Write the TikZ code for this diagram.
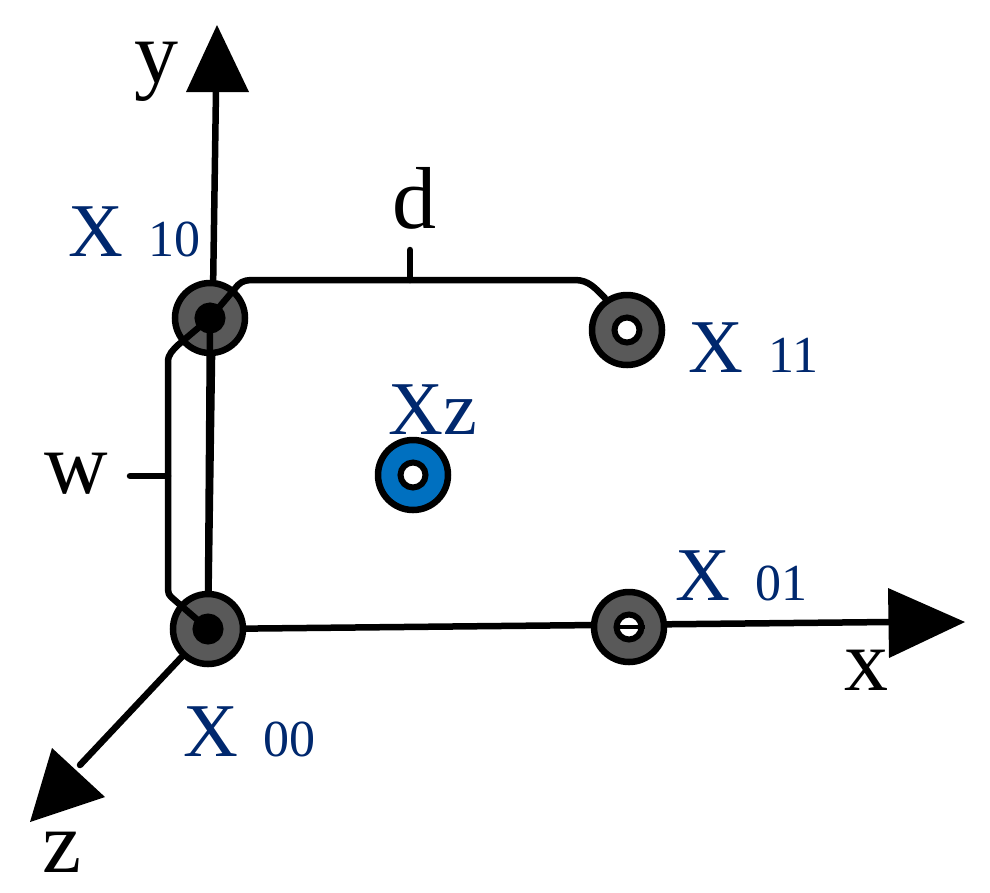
\documentclass[tikz,border=0pt]{standalone}
\usepackage{fontspec}
\setmainfont{Liberation Serif}
\newcommand{\subsz}{\fontsize{52}{52}\selectfont}
\begin{document}
\begin{tikzpicture}[x=1pt,y=-1pt,
  ln/.style={line width=6.5pt,line cap=round,line join=round},
  tip/.style={fill=black},
  pt/.style={circle,draw=black,line width=6.5pt,fill=gray6,minimum size=70pt,inner sep=0pt},
  hole/.style={circle,draw=black,line width=6pt,fill=white,minimum size=25pt,inner sep=0pt},
  lab/.style={text=navy,font=\fontsize{76}{76}\selectfont,inner sep=0pt},
  ax/.style={font=\fontsize{88}{88}\selectfont,inner sep=0pt}]
\definecolor{gray6}{RGB}{89,89,89}
\definecolor{navy}{RGB}{0,40,110}
\definecolor{blu}{RGB}{0,112,192}
\useasboundingbox (0,0) rectangle (990,892);
% axes
\coordinate (O) at (208,629);
\coordinate (ytip) at (217,25);
\coordinate (xtip) at (965,622);
\coordinate (ztip) at (30,822);
\draw[ln] (O) -- (216,90);
\fill[tip] (ytip) -- (186,92) -- (249,92) -- cycle;
\draw[ln] (O) -- (890,622);
\fill[tip] (xtip) -- (888,588) -- (889,658) -- cycle;
\draw[ln] (O) -- (80,765);
\fill[tip] (ztip) -- (52,748) -- (105,797) -- cycle;
% nodes
\node[pt] (n00) at (208,629) {};
\node[hole,fill=black] (h00) at (208,629) {};
\node[pt] (n10) at (210,318) {};
\node[hole,fill=black] (h10) at (210,318) {};
\node[pt] (n11) at (627,330) {};
\node[hole] (h11) at (627,330) {};
\node[pt] (n01) at (629,627) {};
\node[hole] (h01) at (629,627) {};
\draw[line width=4pt] (h01.west) -- (h01.east);
\node[circle,draw=black,line width=6.5pt,fill=blu,minimum size=70pt,inner sep=0pt] (nz) at (413,475) {};
\node[hole] (hz) at (413,475) {};
% X10-X00 line
\draw[ln] (n10.center) -- (n00.north);
% d bracket
\coordinate (d1) at (410,280);
\coordinate (d2) at (410,250);
\draw[ln] (n10.center) -- (238,285) to[out=45,in=180] (255,280) -- (575,280) to[out=0,in=135] (605,298);
\draw[ln] (d1) -- (d2);
% w bracket
\coordinate (w1) at (168,476);
\coordinate (w2) at (130,476);
\draw[ln] (n10.center) -- (178,345) to[out=-135,in=90] (168,362) -- (168,590) to[out=-90,in=135] (178,603) -- (n00.center);
\draw[ln] (w1) -- (w2);
% labels
\node[ax] (ly) at (156,72) {y};
\node[ax] (lx) at (866,670) {x};
\node[ax] (lz) at (62,852) {z};
\node[ax] (ld) at (414,198) {d};
\node[ax] (lw) at (76,474) {w};
\node[lab,anchor=base west] (l10) at (68,256) {X\,\,{\subsz 10}};
\node[lab,anchor=base west] (l11) at (688,372) {X\,\,{\subsz 11}};
\node[lab,anchor=base west] (l01) at (675,600) {X\,\,{\subsz 01}};
\node[lab,anchor=base west] (l00) at (183,756) {X\,\,{\subsz 00}};
\node[lab,anchor=base west] (lz2) at (388,434) {Xz};
\end{tikzpicture}
\end{document}
